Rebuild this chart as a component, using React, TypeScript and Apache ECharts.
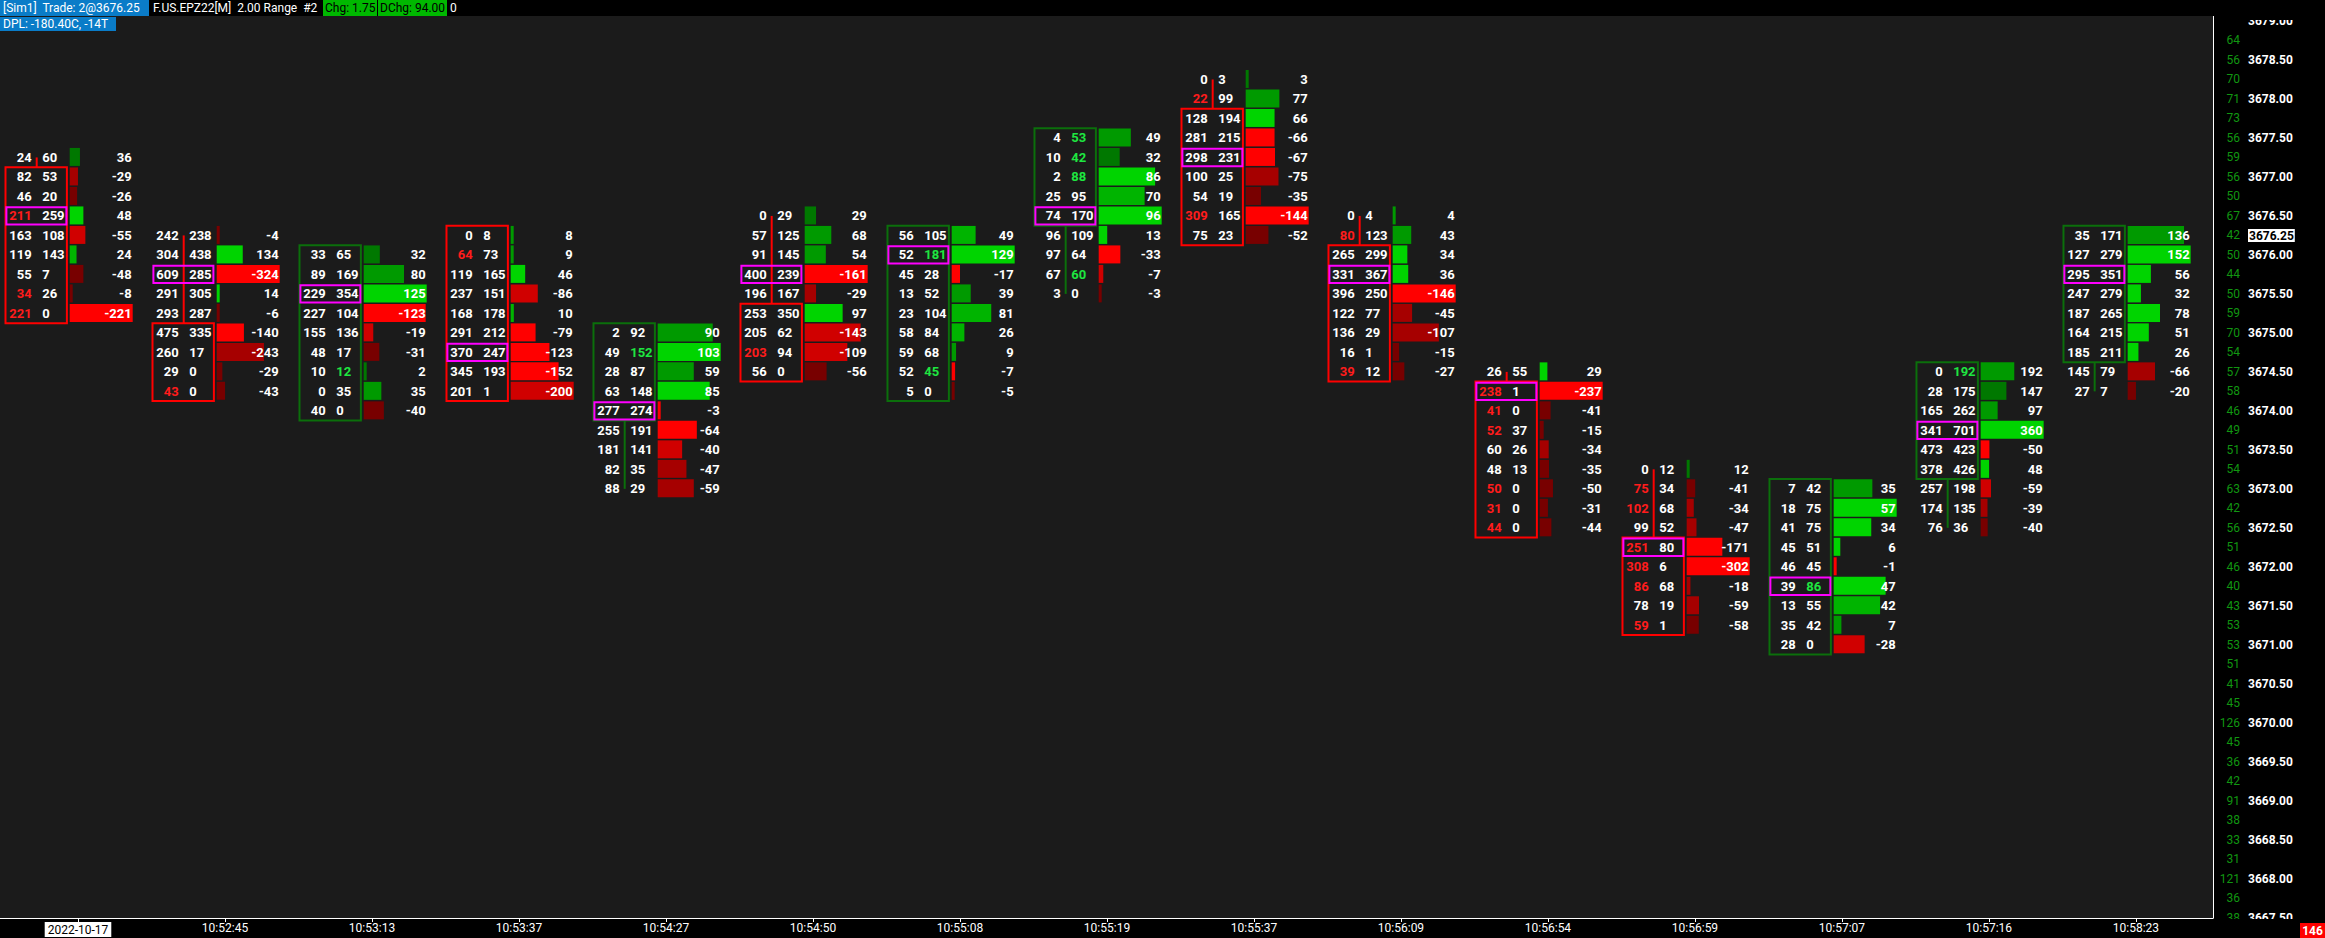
import React, { useEffect, useRef } from "react";
import * as echarts from "echarts";

const TICK = 0.25;
const times = ["2022-10-17", "10:52:45", "10:53:13", "10:53:37", "10:54:27", "10:54:50", "10:55:08", "10:55:19", "10:55:37", "10:56:09", "10:56:54", "10:56:59", "10:57:07", "10:57:16", "10:58:23"];
const topPrices = [3677.25, 3676.25, 3676.0, 3676.25, 3675.0, 3676.5, 3676.25, 3677.5, 3678.25, 3676.5, 3674.5, 3673.25, 3673.0, 3674.5, 3676.25];
const lowPrices = [3675.25, 3674.25, 3674.0, 3674.25, 3673.0, 3674.5, 3674.25, 3675.5, 3676.25, 3674.5, 3672.5, 3671.25, 3671.0, 3672.5, 3674.25];
const opens = [3677.0, 3675.0, 3674.0, 3676.25, 3674.0, 3675.25, 3674.25, 3676.5, 3677.75, 3676.0, 3674.25, 3672.25, 3671.0, 3673.25, 3674.75];
const closes = [3675.25, 3674.25, 3676.0, 3674.25, 3675.0, 3674.5, 3676.25, 3677.5, 3676.25, 3674.5, 3672.5, 3671.25, 3673.0, 3674.5, 3676.25];

const bids = [
  [24, 82, 46, 211, 163, 119, 55, 34, 221],
  [242, 304, 609, 291, 293, 475, 260, 29, 43],
  [33, 89, 229, 227, 155, 48, 10, 0, 40],
  [0, 64, 119, 237, 168, 291, 370, 345, 201],
  [2, 49, 28, 63, 277, 255, 181, 82, 88],
  [0, 57, 91, 400, 196, 253, 205, 203, 56],
  [56, 52, 45, 13, 23, 58, 59, 52, 5],
  [4, 10, 2, 25, 74, 96, 97, 67, 3],
  [0, 22, 128, 281, 298, 100, 54, 309, 75],
  [0, 80, 265, 331, 396, 122, 136, 16, 39],
  [26, 238, 41, 52, 60, 48, 50, 31, 44],
  [0, 75, 102, 99, 251, 308, 86, 78, 59],
  [7, 18, 41, 45, 46, 39, 13, 35, 28],
  [0, 28, 165, 341, 473, 378, 257, 174, 76],
  [35, 127, 295, 247, 187, 164, 185, 145, 27],
];
const asks = [
  [60, 53, 20, 259, 108, 143, 7, 26, 0],
  [238, 438, 285, 305, 287, 335, 17, 0, 0],
  [65, 169, 354, 104, 136, 17, 12, 35, 0],
  [8, 73, 165, 151, 178, 212, 247, 193, 1],
  [92, 152, 87, 148, 274, 191, 141, 35, 29],
  [29, 125, 145, 239, 167, 350, 62, 94, 0],
  [105, 181, 28, 52, 104, 84, 68, 45, 0],
  [53, 42, 88, 95, 170, 109, 64, 60, 0],
  [3, 99, 194, 215, 231, 25, 19, 165, 23],
  [4, 123, 299, 367, 250, 77, 29, 1, 12],
  [55, 1, 0, 37, 26, 13, 0, 0, 0],
  [12, 34, 68, 52, 80, 6, 68, 19, 1],
  [42, 75, 75, 51, 45, 86, 55, 42, 0],
  [192, 175, 262, 701, 423, 426, 198, 135, 36],
  [171, 279, 351, 279, 265, 215, 211, 79, 7],
];
// intensity level (1..4) of each delta bar
const heat = [
  [1, 2, 1, 4, 3, 3, 1, 1, 4],
  [1, 4, 4, 4, 1, 4, 2, 1, 1],
  [1, 2, 4, 4, 3, 1, 1, 2, 1],
  [2, 2, 4, 3, 3, 4, 4, 4, 3],
  [2, 4, 2, 4, 4, 4, 3, 2, 2],
  [1, 2, 2, 4, 2, 4, 3, 3, 1],
  [3, 4, 4, 2, 3, 3, 2, 4, 1],
  [2, 1, 4, 3, 4, 4, 4, 3, 1],
  [1, 2, 4, 4, 4, 2, 1, 4, 1],
  [2, 2, 4, 4, 4, 2, 2, 1, 1],
  [4, 4, 1, 1, 2, 1, 1, 1, 1],
  [1, 1, 2, 2, 4, 4, 2, 2, 1],
  [2, 4, 4, 4, 4, 4, 3, 2, 3],
  [2, 1, 2, 4, 4, 4, 3, 2, 1],
  [2, 4, 4, 4, 4, 4, 4, 2, 1],
];

const priceLabels = [3679.0, 3678.5, 3678.0, 3677.5, 3677.0, 3676.5, 3676.25, 3676.0, 3675.5, 3675.0, 3674.5, 3674.0, 3673.5, 3673.0, 3672.5, 3672.0, 3671.5, 3671.0, 3670.5, 3670.0, 3669.5, 3669.0, 3668.5, 3668.0, 3667.5];
const lastPrice = 3676.25;
const profilePrices = [3678.75, 3678.5, 3678.25, 3678.0, 3677.75, 3677.5, 3677.25, 3677.0, 3676.75, 3676.5, 3676.25, 3676.0, 3675.75, 3675.5, 3675.25, 3675.0, 3674.75, 3674.5, 3674.25, 3674.0, 3673.75, 3673.5, 3673.25, 3673.0, 3672.75, 3672.5, 3672.25, 3672.0, 3671.75, 3671.5, 3671.25, 3671.0, 3670.75, 3670.5, 3670.25, 3670.0, 3669.75, 3669.5, 3669.25, 3669.0, 3668.75, 3668.5, 3668.25, 3668.0, 3667.75, 3667.5];
const profileVolumes = [64, 56, 70, 71, 73, 56, 59, 56, 50, 67, 42, 50, 44, 50, 59, 70, 54, 57, 58, 46, 49, 51, 54, 63, 42, 56, 51, 46, 40, 43, 53, 53, 51, 41, 45, 126, 45, 36, 42, 91, 38, 33, 31, 121, 36, 38];

const Y_MIN = 3667.496;
const Y_MAX = 3679.064;
const X_MIN = -0.5306;
const X_MAX = 14.524;
const BG = "#1b1b1b";
const FONT = "Roboto";

const GREENS = ["#007800", "#009a00", "#00b400", "#00d400"];
const REDS = ["#780000", "#a60000", "#d00000", "#ff0000"];

export default function App() {
  const ref = useRef<HTMLDivElement>(null);
  useEffect(() => {
    document.body.style.margin = "0";
    document.body.style.background = "#000";
    const chart = echarts.init(ref.current!, null, { renderer: "svg" });

    const cellData: number[][] = [];
    times.forEach((_, i) => {
      const b = bids[i];
      const a = asks[i];
      const deltas = a.map((v, k) => v - b[k]);
      const maxAbs = Math.max(...deltas.map((d) => Math.abs(d)));
      const vols = a.map((v, k) => v + b[k]);
      const pocK = vols.indexOf(Math.max(...vols));
      b.forEach((bid, k) => {
        const price = topPrices[i] - k * TICK;
        const bidHi = k > 0 && bid > 0 && bid >= 3 * a[k - 1] ? 1 : 0;
        const askHi = k < b.length - 1 && a[k] > 0 && a[k] >= 3 * b[k + 1] ? 1 : 0;
        cellData.push([i, price, bid, a[k], deltas[k], Math.abs(deltas[k]) / maxAbs, heat[i][k], bidHi, askHi, k === pocK ? 1 : 0]);
      });
    });

    const barData = times.map((_, i) => [i, topPrices[i], lowPrices[i], opens[i], closes[i]]);
    const volMap: Record<string, number> = {};
    profilePrices.forEach((p, k) => (volMap[p.toFixed(2)] = profileVolumes[k]));

    const txt = (x: number, y: number, text: string, fill: string, align: string, size = 13, weight = "bold") => ({
      type: "text",
      x,
      y,
      style: { text, fill, align, verticalAlign: "middle", fontSize: size, fontWeight: weight, fontFamily: FONT },
    });

    const hdr = (x: number, y: number, text: string, fill: string) => ({
      type: "text",
      z: 102,
      x,
      y,
      style: { text, fill, fontSize: 12, fontFamily: FONT, verticalAlign: "middle" },
    });

    const option: any = {
      animation: false,
      backgroundColor: "#000",
      grid: { left: 0, right: 112, top: 16, bottom: 20, show: true, backgroundColor: BG, borderWidth: 0 },
      xAxis: {
        type: "value",
        min: X_MIN,
        max: X_MAX,
        splitLine: { show: false },
        axisLine: { show: true, onZero: false, lineStyle: { color: "#ffffff", width: 1 } },
        axisTick: { show: true, customValues: times.map((_, i) => i), length: 4, lineStyle: { color: "#ffffff" } },
        axisLabel: {
          customValues: times.map((_, i) => i),
          formatter: (v: number) => {
            const i = Math.round(v);
            return i === 0 ? `{d|${times[0]}}` : times[i];
          },
          color: "#ffffff",
          fontSize: 12,
          fontFamily: FONT,
          margin: 4,
          rich: { d: { backgroundColor: "#ffffff", color: "#000000", fontSize: 12, fontFamily: FONT, padding: [2, 3, 1, 3] } },
        },
      },
      yAxis: [
        {
          type: "value",
          position: "right",
          min: Y_MIN,
          max: Y_MAX,
          splitLine: { show: false },
          axisLine: { show: true, onZero: false, lineStyle: { color: "#ffffff", width: 1 } },
          axisTick: { show: false },
          axisLabel: {
            customValues: priceLabels,
            formatter: (v: number) => (Math.abs(v - lastPrice) < 1e-6 ? `{c|${v.toFixed(2)}}` : v.toFixed(2)),
            color: "#ffffff",
            fontSize: 12,
            fontWeight: "bold",
            fontFamily: FONT,
            margin: 35,
            rich: { c: { backgroundColor: "#ffffff", color: "#000000", fontSize: 12, fontWeight: "bold", fontFamily: FONT, padding: [1, 1, 0, 1] } },
          },
        },
        {
          type: "value",
          position: "right",
          min: Y_MIN,
          max: Y_MAX,
          splitLine: { show: false },
          axisLine: { show: false, onZero: false },
          axisTick: { show: false },
          axisLabel: {
            customValues: profilePrices,
            formatter: (v: number) => String(volMap[v.toFixed(2)] ?? ""),
            color: "#119611",
            fontSize: 12,
            fontFamily: FONT,
            align: "right",
            margin: 27,
          },
        },
      ],
      series: [
        {
          type: "custom",
          coordinateSystem: "cartesian2d",
          clip: false,
          data: barData,
          encode: { x: 0, y: [1, 2] },
          renderItem: (params: any, api: any) => {
            const i = api.value(0);
            const hi = api.value(1);
            const lo = api.value(2);
            const op = api.value(3);
            const cl = api.value(4);
            const [cx, yHi] = api.coord([i, hi]);
            const yLo = api.coord([i, lo])[1];
            const rowH = api.size([0, TICK])[1];
            const k = api.size([1, 0])[0] / 147;
            const w = cx - 41.3 * k;
            const color = cl >= op ? "#0b6f0b" : "#ff0000";
            const bTop = api.coord([i, Math.max(op, cl)])[1] - rowH / 2;
            const bBot = api.coord([i, Math.min(op, cl)])[1] + rowH / 2;
            return {
              type: "group",
              children: [
                { type: "line", shape: { x1: w, y1: yHi, x2: w, y2: yLo }, style: { stroke: color, lineWidth: 2 } },
                { type: "rect", shape: { x: w - 31.2 * k, y: bTop, width: 61.4 * k, height: bBot - bTop }, style: { fill: BG, stroke: color, lineWidth: 2 } },
              ],
            };
          },
        },
        {
          type: "custom",
          coordinateSystem: "cartesian2d",
          clip: false,
          data: cellData,
          encode: { x: 0, y: 1 },
          renderItem: (params: any, api: any) => {
            const i = api.value(0);
            const p = api.value(1);
            const bid = api.value(2);
            const ask = api.value(3);
            const d = api.value(4);
            const frac = api.value(5);
            const h = api.value(6);
            const bidHi = api.value(7);
            const askHi = api.value(8);
            const poc = api.value(9);
            const [cx, cy] = api.coord([i, p]);
            const k = api.size([1, 0])[0] / 147;
            const w = cx - 41.3 * k;
            const barW = Math.max(3, frac * 63 * k);
            const fill = d >= 0 ? GREENS[h - 1] : REDS[h - 1];
            const children: any[] = [
              { type: "rect", shape: { x: w + 33 * k, y: cy - 9.5, width: barW, height: 18 }, style: { fill } },
            ];
            if (poc) {
              children.push({ type: "rect", shape: { x: w - 30.3 * k, y: cy - 8.7, width: 60 * k, height: 17.4 }, style: { fill: "none", stroke: "#ff00ff", lineWidth: 2 } });
            }
            children.push(txt(w - 5 * k, cy, String(bid), bidHi ? "#ff1c1c" : "#ffffff", "right"));
            children.push(txt(w + 5.5 * k, cy, String(ask), askHi ? "#1ee640" : "#ffffff", "left"));
            children.push(txt(w + 95 * k, cy, String(d), "#ffffff", "right"));
            return { type: "group", children };
          },
        },
      ],
      graphic: [
        { type: "rect", z: 100, shape: { x: 0, y: 0, width: 2325, height: 16 }, style: { fill: "#000" } },
        { type: "rect", z: 100, shape: { x: 2214, y: 16, width: 111, height: 4 }, style: { fill: "#000" } },
        { type: "rect", z: 100, shape: { x: 2214, y: 919, width: 111, height: 19 }, style: { fill: "#000" } },
        { type: "rect", z: 101, shape: { x: 0, y: 0, width: 149, height: 16 }, style: { fill: "#0a7cc8" } },
        hdr(3, 8, "[Sim1]  Trade: 2@3676.25", "#fff"),
        hdr(153, 8, "F.US.EPZ22[M]  2.00 Range  #2", "#fff"),
        { type: "rect", z: 101, shape: { x: 323, y: 0, width: 54, height: 16 }, style: { fill: "#00b800" } },
        hdr(325, 8, "Chg: 1.75", "#000"),
        { type: "rect", z: 101, shape: { x: 378, y: 0, width: 69, height: 16 }, style: { fill: "#00b800" } },
        hdr(380, 8, "DChg: 94.00", "#000"),
        hdr(450, 8, "0", "#fff"),
        { type: "rect", z: 101, shape: { x: 0, y: 17, width: 116, height: 14 }, style: { fill: "#0a7cc8" } },
        hdr(3, 24, "DPL: -180.40C, -14T", "#fff"),
        { type: "rect", z: 101, shape: { x: 2300, y: 923, width: 25, height: 15 }, style: { fill: "#ff0000" } },
        { type: "text", z: 102, x: 2312.5, y: 931, style: { text: "146", fill: "#fff", fontSize: 12, fontWeight: "bold", fontFamily: FONT, align: "center", verticalAlign: "middle" } },
      ],
    };

    chart.setOption(option);
    return () => chart.dispose();
  }, []);
  return <div ref={ref} style={{ width: 2325, height: 938 }} />;
}
